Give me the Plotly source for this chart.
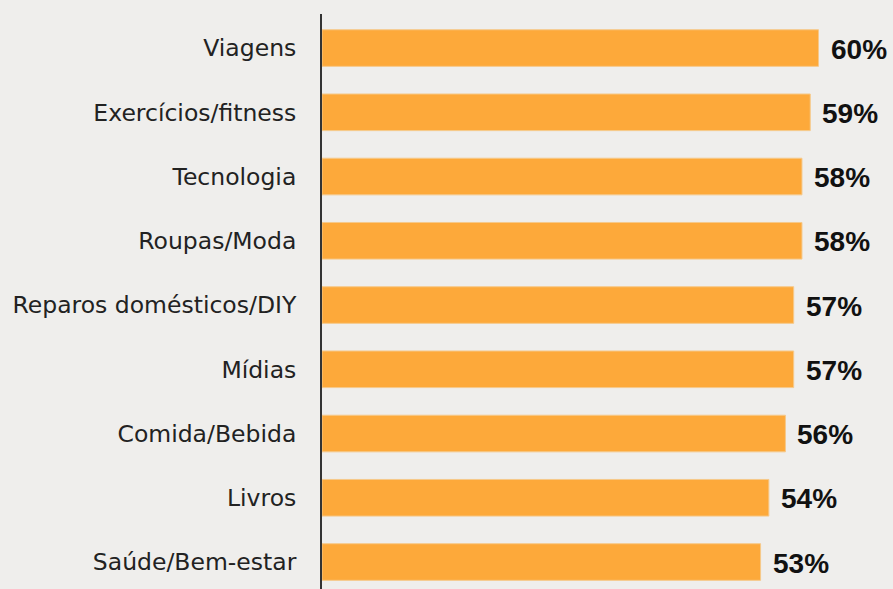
import plotly.graph_objects as go

categories = ["Viagens", "Exercícios/fitness", "Tecnologia", "Roupas/Moda",
              "Reparos domésticos/DIY", "Mídias", "Comida/Bebida", "Livros",
              "Saúde/Bem-estar"]
values = [60, 59, 58, 58, 57, 57, 56, 54, 53]
value_labels = [f"{v}%" for v in values]

fig = go.Figure(go.Bar(
    x=values, y=categories, orientation="h",
    marker=dict(color="#fda93a", line=dict(color="#f6c98a", width=1)),
    width=0.57,
))

for c, v, t in zip(categories, values, value_labels):
    fig.add_annotation(
        x=v, y=c, text=t, showarrow=False, xanchor="left", yanchor="middle",
        xshift=10, yshift=-1,
        font=dict(family="Liberation Sans", size=28, color="#111111", weight="bold"),
    )

fig.update_layout(
    width=893, height=589,
    margin=dict(l=322, r=0, t=14, b=0),
    paper_bgcolor="#efeeec", plot_bgcolor="#efeeec",
    showlegend=False,
)
fig.update_xaxes(range=[0, 69], visible=False, showgrid=False, zeroline=False)
fig.update_yaxes(
    categoryorder="array", categoryarray=categories,
    range=[8.42, -0.53],
    showline=True, linecolor="#333333", linewidth=2,
    showgrid=False, zeroline=False, ticks="",
    ticklabelstandoff=19,
    tickfont=dict(family="DejaVu Sans", size=23.5, color="#222222"),
)

fig.write_html("out.html", post_script="document.body.style.margin='0';",
               config={"displayModeBar": False})
